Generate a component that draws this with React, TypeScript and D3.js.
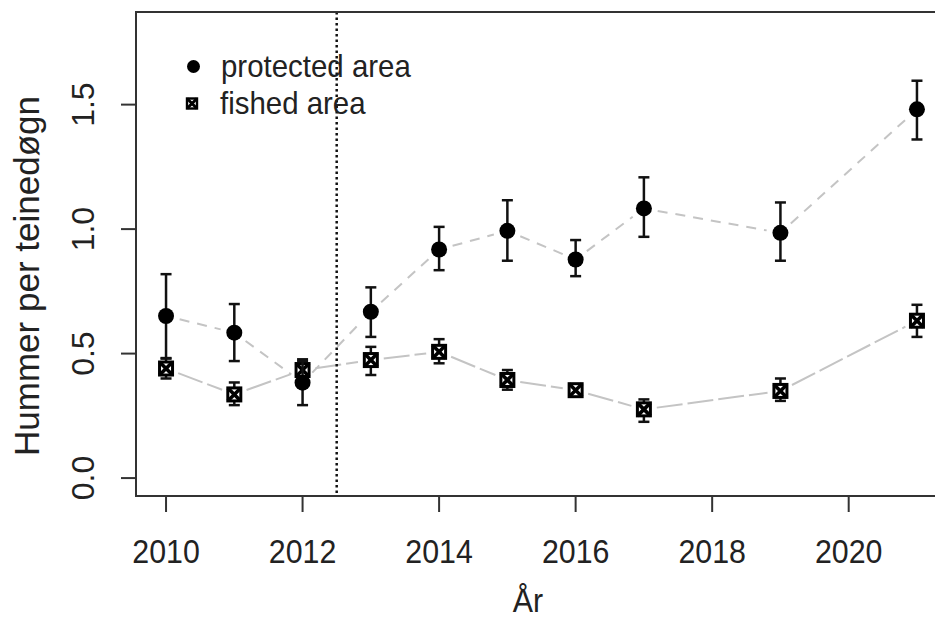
import React from "react";
import * as d3 from "d3";

const years = [2010, 2011, 2012, 2013, 2014, 2015, 2016, 2017, 2019, 2021];
const protectedMean = [0.651, 0.584, 0.383, 0.668, 0.918, 0.993, 0.878, 1.083, 0.985, 1.481];
const protectedUpper = [0.819, 0.699, 0.47, 0.766, 1.009, 1.116, 0.956, 1.208, 1.107, 1.596];
const protectedLower = [0.482, 0.47, 0.293, 0.567, 0.835, 0.873, 0.811, 0.969, 0.873, 1.36];
const fishedMean = [0.44, 0.336, 0.434, 0.474, 0.507, 0.394, 0.353, 0.276, 0.35, 0.632];
const fishedUpper = [0.48, 0.384, 0.477, 0.527, 0.558, 0.434, 0.375, 0.316, 0.4, 0.696];
const fishedLower = [0.4, 0.293, 0.39, 0.414, 0.461, 0.355, 0.332, 0.226, 0.31, 0.567];
const xTicks = [2010, 2012, 2014, 2016, 2018, 2020];
const yTicks = [0, 0.5, 1.0, 1.5];
const legendLabels = ["protected area", "fished area"];
const xTitle = "År";
const yTitle = "Hummer per teinedøgn";
const breakYear = 2012.5;

const W = 935;
const H = 624;
const FONT = "'Liberation Sans', Arial, sans-serif";
const TXT = "#222";

const x = d3.scaleLinear().domain([2009.56, 2021.44]).range([136, 947]);
const y = d3.scaleLinear().domain([-0.072, 1.872]).range([496, 12]);

function gappedSegments(xs: number[], ys: number[], gap: number) {
  const segs: { x1: number; y1: number; x2: number; y2: number }[] = [];
  for (let i = 0; i < xs.length - 1; i++) {
    const ax = x(xs[i]), ay = y(ys[i]), bx = x(xs[i + 1]), by = y(ys[i + 1]);
    const dx = bx - ax, dy = by - ay;
    const len = Math.hypot(dx, dy);
    if (len <= 2 * gap) continue;
    const ux = dx / len, uy = dy / len;
    segs.push({ x1: ax + ux * gap, y1: ay + uy * gap, x2: bx - ux * gap, y2: by - uy * gap });
  }
  return segs;
}

function SquareMarker({ cx, cy, s, sw }: { cx: number; cy: number; s: number; sw: number }) {
  const h = s / 2;
  return (
    <g>
      <rect x={cx - h} y={cy - h} width={s} height={s} fill="#fff" stroke="#000" strokeWidth={sw} />
      <line x1={cx - h} y1={cy - h} x2={cx + h} y2={cy + h} stroke="#000" strokeWidth={sw + 0.6} />
      <line x1={cx - h} y1={cy + h} x2={cx + h} y2={cy - h} stroke="#000" strokeWidth={sw + 0.6} />
    </g>
  );
}

function ErrorBars({ lower, upper }: { lower: number[]; upper: number[] }) {
  return (
    <g stroke="#111" strokeWidth={2.5}>
      {years.map((yr, i) => (
        <g key={yr}>
          <line x1={x(yr)} x2={x(yr)} y1={y(lower[i])} y2={y(upper[i])} />
          <line x1={x(yr) - 5.5} x2={x(yr) + 5.5} y1={y(lower[i])} y2={y(lower[i])} />
          <line x1={x(yr) - 5.5} x2={x(yr) + 5.5} y1={y(upper[i])} y2={y(upper[i])} />
        </g>
      ))}
    </g>
  );
}

export default function App() {
  const pSegs = gappedSegments(years, protectedMean, 14);
  const fSegs = gappedSegments(years, fishedMean, 13);
  const [x0, x1] = x.range();
  const [y0, y1] = y.range();
  return (
    <svg width={W} height={H} style={{ position: "absolute", left: 0, top: 0, background: "#fff" }}>
      <rect x={0} y={0} width={W} height={H} fill="#fff" />
      {/* lines */}
      <g stroke="#c4c4c4" strokeWidth={2} fill="none">
        {pSegs.map((s, i) => (
          <line key={"p" + i} {...s} strokeDasharray="10,8" />
        ))}
        {fSegs.map((s, i) => (
          <line key={"f" + i} {...s} strokeDasharray="26,5" />
        ))}
      </g>
      {/* break line */}
      <line x1={x(breakYear)} x2={x(breakYear)} y1={y1} y2={y0} stroke="#111" strokeWidth={2.5} strokeDasharray="2.5,3" />
      {/* fished */}
      <ErrorBars lower={fishedLower} upper={fishedUpper} />
      {years.map((yr, i) => (
        <SquareMarker key={yr} cx={x(yr)} cy={y(fishedMean[i])} s={13} sw={3} />
      ))}
      {/* protected */}
      <ErrorBars lower={protectedLower} upper={protectedUpper} />
      {years.map((yr, i) => (
        <circle key={yr} cx={x(yr)} cy={y(protectedMean[i])} r={8} fill="#000" />
      ))}
      {/* box */}
      <rect x={x0} y={y1} width={x1 - x0} height={y0 - y1} fill="none" stroke="#333" strokeWidth={2} />
      {/* x axis */}
      {xTicks.map((t) => (
        <g key={t}>
          <line x1={x(t)} x2={x(t)} y1={y0} y2={y0 + 16} stroke="#333" strokeWidth={2} />
          <text
            transform={`translate(${x(t)},562.5) scale(0.92,1)`}
            textAnchor="middle"
            fontFamily={FONT}
            fontSize={33}
            fill={TXT}
          >
            {t}
          </text>
        </g>
      ))}
      {/* y axis */}
      {yTicks.map((t) => (
        <g key={t}>
          <line x1={x0} x2={x0 - 15} y1={y(t)} y2={y(t)} stroke="#333" strokeWidth={2} />
          <text
            transform={`translate(94,${y(t)}) rotate(-90)`}
            textAnchor="middle"
            fontFamily={FONT}
            fontSize={32}
            fill={TXT}
          >
            {t.toFixed(1)}
          </text>
        </g>
      ))}
      <text
        transform={`translate(528,612) scale(0.92,1)`}
        textAnchor="middle"
        fontFamily={FONT}
        fontSize={33}
        fill={TXT}
      >
        {xTitle}
      </text>
      <text
        transform={`translate(39,276) rotate(-90)`}
        textAnchor="middle"
        fontFamily={FONT}
        fontSize={35}
        fill={TXT}
      >
        {yTitle}
      </text>
      {/* legend */}
      <circle cx={193.5} cy={66.5} r={6.5} fill="#000" />
      <SquareMarker cx={192} cy={103.5} s={10} sw={2.4} />
      <text
        transform="translate(221,76.5) scale(0.92,1)"
        fontFamily={FONT}
        fontSize={32}
        fill={TXT}
      >
        {legendLabels[0]}
      </text>
      <text
        transform="translate(220,114) scale(0.92,1)"
        fontFamily={FONT}
        fontSize={32}
        fill={TXT}
      >
        {legendLabels[1]}
      </text>
    </svg>
  );
}
